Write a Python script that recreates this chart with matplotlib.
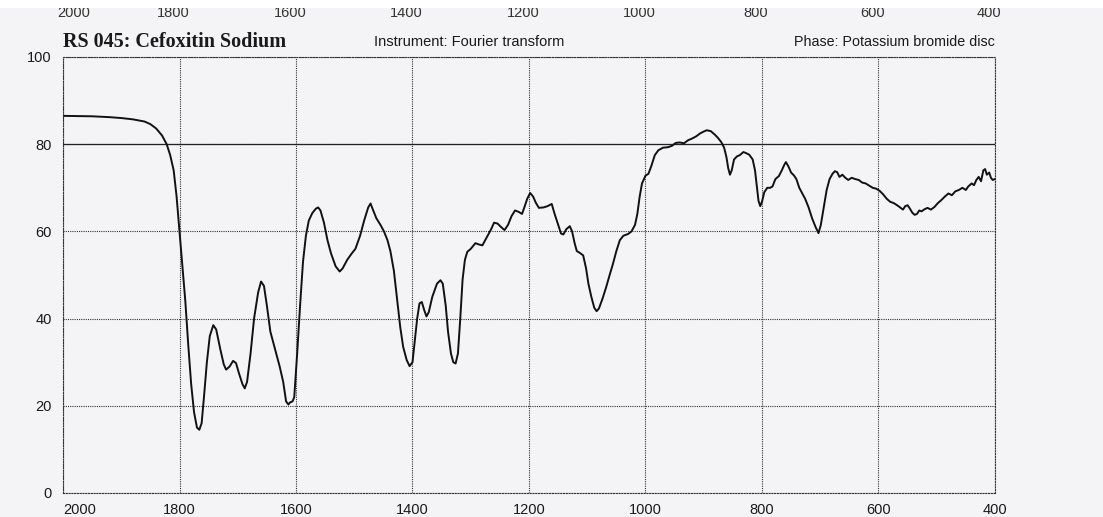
import numpy as np
import matplotlib
matplotlib.use("Agg")
from matplotlib import pyplot as plt
from matplotlib import transforms
from matplotlib.patches import Rectangle

# Spectrum: wavenumber (cm-1) and transmittance (%)
wavenumber = [
    2000, 1950, 1920, 1900, 1880, 1860, 1850, 1840, 1830, 1822, 1816, 1810, 1805, 1800,
    1795, 1790, 1785, 1780, 1775, 1770, 1766, 1762, 1758, 1753, 1748, 1742, 1737, 1730,
    1724, 1720, 1714, 1708, 1703, 1698, 1692, 1688, 1684, 1678, 1672, 1665, 1660, 1655,
    1650, 1644, 1636, 1628, 1622, 1617, 1613, 1610, 1606, 1603, 1598, 1593, 1588, 1583,
    1578, 1572, 1566, 1562, 1558, 1552, 1546, 1540, 1532, 1525, 1520, 1512, 1504, 1498,
    1490, 1483, 1476, 1472, 1468, 1462, 1455, 1449, 1443, 1438, 1432, 1427, 1421, 1416,
    1410, 1405, 1400, 1396, 1392, 1388, 1384, 1380, 1376, 1372, 1366, 1358, 1352, 1348,
    1343, 1339, 1334, 1330, 1326, 1322, 1318, 1314, 1310, 1306, 1300, 1292, 1286, 1280,
    1276, 1271, 1265, 1260, 1254, 1248, 1242, 1236, 1230, 1224, 1218, 1212, 1208, 1203,
    1198, 1193, 1188, 1183, 1175, 1168, 1161, 1156, 1150, 1145, 1141, 1136, 1130, 1126,
    1122, 1118, 1112, 1107, 1102, 1098, 1093, 1088, 1084, 1080, 1074, 1068, 1062, 1056,
    1050, 1044, 1038, 1030, 1024, 1018, 1014, 1010, 1006, 1000, 995, 990, 984, 978,
    970, 962, 955, 948, 941, 934, 927, 920, 913, 906, 900, 895, 888, 881,
    876, 870, 865, 861, 858, 855, 852, 848, 843, 838, 832, 828, 822, 816,
    812, 809, 806, 803, 800, 796, 791, 786, 782, 777, 771, 766, 762, 759,
    755, 750, 745, 741, 736, 730, 726, 720, 714, 708, 703, 699, 694, 689,
    684, 679, 675, 671, 667, 662, 657, 652, 646, 640, 634, 628, 622, 616,
    610, 604, 598, 592, 586, 580, 574, 568, 563, 558, 554, 550, 546, 542,
    538, 534, 530, 526, 522, 516, 510, 504, 498, 492, 486, 480, 474, 468,
    462, 456, 450, 446, 440, 436, 432, 428, 424, 420, 417, 414, 410, 407,
    404, 400,
]
transmittance = [
    86.5, 86.4, 86.2, 86.0, 85.7, 85.2, 84.6, 83.6, 82.0, 80.0, 77.5, 74.0, 68.0, 60.0,
    52.0, 44.0, 34.0, 25.0, 18.5, 15.0, 14.5, 16.0, 22.0, 30.0, 36.0, 38.5, 37.5, 33.0,
    29.5, 28.3, 29.0, 30.3, 29.8, 27.5, 25.0, 24.0, 25.5, 32.0, 40.0, 46.0, 48.5, 47.5,
    43.0, 37.0, 33.0, 29.0, 25.5, 21.0, 20.3, 20.8, 21.0, 22.0, 32.0, 43.0, 53.0, 59.0,
    62.5, 64.2, 65.2, 65.5, 64.8, 62.0, 58.0, 55.0, 52.0, 50.8, 51.5, 53.5, 55.0, 56.0,
    59.0, 62.5, 65.5, 66.4, 65.0, 63.0, 61.5, 60.0, 58.0, 55.5, 51.0, 45.0, 38.0, 33.5,
    30.5, 29.1, 30.0, 35.0, 40.0, 43.5, 43.8, 42.0, 40.5, 41.5, 45.0, 48.0, 48.8, 48.0,
    43.0, 37.0, 32.0, 30.0, 29.7, 32.0, 40.0, 49.0, 53.5, 55.3, 56.0, 57.3, 57.0, 56.8,
    57.8, 59.0, 60.5, 62.0, 61.8, 61.0, 60.3, 61.5, 63.5, 64.8, 64.5, 64.0, 65.5, 67.5,
    68.8, 68.0, 66.5, 65.4, 65.5, 65.8, 66.3, 64.0, 61.5, 59.5, 59.3, 60.5, 61.2, 60.0,
    57.5, 55.5, 55.0, 54.5, 51.5, 48.0, 45.0, 42.5, 41.7, 42.3, 44.5, 47.0, 49.8, 52.5,
    55.5, 58.0, 59.0, 59.4, 60.0, 61.5, 64.0, 68.0, 71.0, 72.8, 73.2, 75.0, 77.5, 78.6,
    79.2, 79.3, 79.6, 80.3, 80.4, 80.2, 80.9, 81.3, 81.8, 82.5, 82.9, 83.2, 83.0, 82.2,
    81.5, 80.5, 79.2, 77.0, 74.5, 73.0, 74.0, 76.5, 77.2, 77.5, 78.2, 78.0, 77.6, 76.5,
    74.0, 70.5, 67.0, 65.8, 66.8, 69.0, 70.0, 70.0, 70.3, 72.0, 72.7, 74.0, 75.2, 75.9,
    75.0, 73.5, 72.8, 72.0, 70.0, 68.5, 67.5, 65.5, 63.0, 61.0, 59.6, 61.5, 65.5, 69.5,
    72.0, 73.2, 73.8, 73.6, 72.5, 73.0, 72.3, 71.8, 72.3, 72.0, 71.8, 71.2, 71.0, 70.5,
    70.0, 69.8, 69.3, 68.5, 67.5, 66.8, 66.5, 66.0, 65.5, 65.0, 65.8, 66.0, 65.2, 64.3,
    63.8, 64.0, 64.8, 64.6, 65.0, 65.4, 65.0, 65.6, 66.5, 67.2, 68.0, 68.7, 68.3, 69.2,
    69.5, 70.0, 69.5, 70.3, 71.0, 70.6, 71.8, 72.5, 71.5, 74.0, 74.3, 73.0, 73.5, 72.3,
    71.8, 72.0,
]

x_ticks = [2000, 1800, 1600, 1400, 1200, 1000, 800, 600, 400]
y_ticks = [0, 20, 40, 60, 80, 100]

title = "RS 045: Cefoxitin Sodium"
instrument = "Instrument: Fourier transform"
phase = "Phase: Potassium bromide disc"

paper = "#f4f4f6"
ink = "#1a1a1a"

fig = plt.figure(figsize=(11.03, 5.17), dpi=100, facecolor=paper)
ax = fig.add_axes([63 / 1103, 1 - 493 / 517, 932 / 1103, 436 / 517])
ax.set_facecolor(paper)

ax.set_xlim(2000, 400)
ax.set_ylim(0, 100)
ax.set_xticks(x_ticks)
ax.set_yticks(y_ticks)
ax.set_xticklabels([str(t) for t in x_ticks], family="Liberation Sans", fontsize=10.5, color=ink)
ax.set_yticklabels([str(t) for t in y_ticks], family="Liberation Sans", fontsize=10.5, color=ink)
ax.get_xticklabels()[0].set_horizontalalignment("left")
ax.tick_params(axis="both", length=0)
ax.tick_params(axis="x", pad=7)
ax.tick_params(axis="y", pad=8)

# dotted grid and frame, solid line at 80 %
ax.grid(True, color="#333333", linestyle=(0, (1, 1)), linewidth=0.8)
for s in ax.spines.values():
    s.set_linestyle((0, (1, 1.5)))
    s.set_linewidth(0.8)
    s.set_color("#333333")
ax.axhline(80, color="#222222", linewidth=0.9)

ax.plot(wavenumber, transmittance, color="#111111", linewidth=1.4)

# header
fig.text(63 / 1103, 1 - 42 / 517, title, family="Liberation Serif", fontweight="bold",
         fontsize=14.5, color=ink, va="center", ha="left")
fig.text(469 / 1103, 1 - 42 / 517, instrument, family="Liberation Sans",
         fontsize=10.5, color=ink, va="center", ha="center")
fig.text(995 / 1103, 1 - 42 / 517, phase, family="Liberation Sans",
         fontsize=10.3, color=ink, va="center", ha="right")

# tick labels of the previous sheet, cut off by the white edge of the scan
trans = transforms.blended_transform_factory(ax.transData, fig.transFigure)
for i, t in enumerate(x_ticks):
    fig.text(t + 10, 1 - 17 / 517, str(t), transform=trans, family="Liberation Sans",
             fontsize=10.5, color="#333333", va="baseline",
             ha="left" if i == 0 else "center", zorder=3)
fig.patches.append(Rectangle((0, 1 - 8 / 517), 1, 8 / 517, transform=fig.transFigure,
                             facecolor="white", edgecolor="none", zorder=10))

plt.savefig("out.png", dpi=100, facecolor=paper)
